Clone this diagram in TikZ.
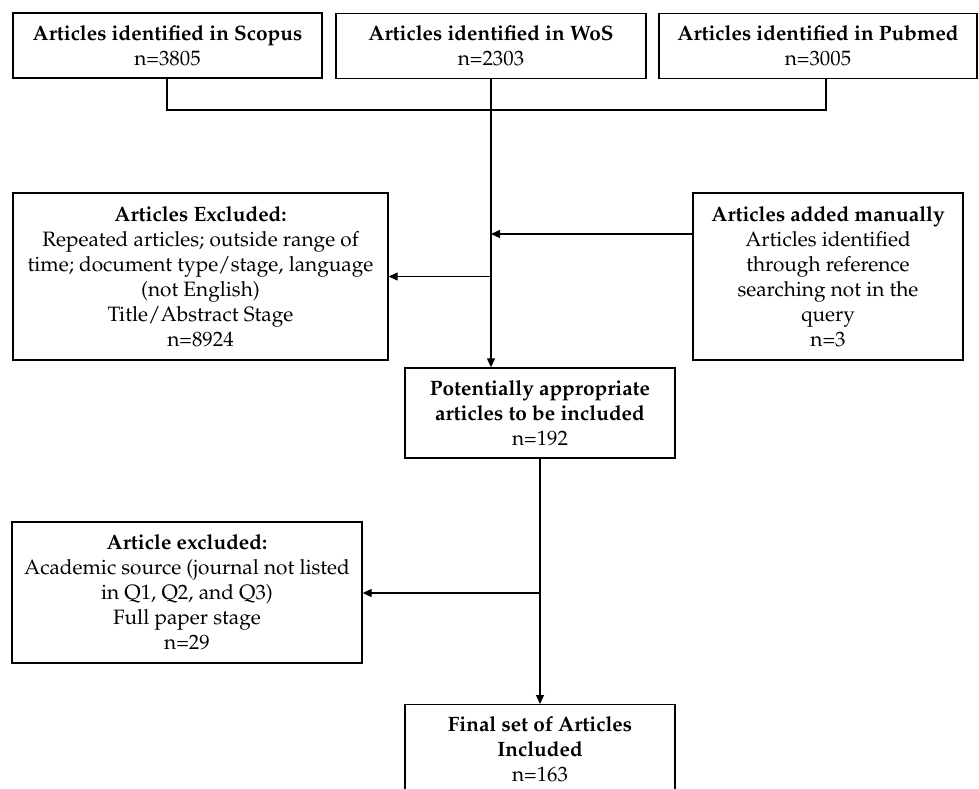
\documentclass[tikz,border=0pt]{standalone}
\usepackage[T1]{fontenc}
\usepackage{mathpazo}
\usetikzlibrary{arrows.meta}
\begin{document}
\begin{tikzpicture}[x=1pt,y=-1pt,
  box/.style={draw, line width=1.4pt, rectangle, align=center, inner sep=2pt,
    font=\fontsize{20.8}{25}\selectfont},
  link/.style={line width=1.3pt},
  flow/.style={line width=1.3pt, -{Triangle[length=9pt,width=8pt]}}]
  \useasboundingbox (0,0) rectangle (979,789);
  \clip (0,0) rectangle (979,789);

  % database searches
  \node[box, minimum width=309pt, minimum height=65pt] (scopus) at (167.5,45.5)
    {\textbf{Articles identified in Scopus}\\n=3805};
  \node[box, minimum width=310pt, minimum height=65pt] (wos) at (491,46)
    {\textbf{Articles identified in WoS}\\n=2303};
  \node[box, minimum width=318pt, minimum height=65pt] (pubmed) at (818,46)
    {\textbf{Articles identified in Pubmed}\\n=3005};

  % screening stage
  \node[box, minimum width=375pt, minimum height=167pt] (excl) at (200.5,276.5)
    {\textbf{Articles Excluded:}\\Repeated articles; outside range of\\time; document type/stage, language\\(not English)\\Title/Abstract Stage\\n=8924};
  \node[box, minimum width=270pt, minimum height=167pt] (added) at (828,276.5)
    {\textbf{Articles added manually}\\Articles identified\\through reference\\searching not in the\\query\\n=3};
  \node[box, minimum width=270pt, minimum height=90pt] (pot) at (540,413)
    {\textbf{Potentially appropriate}\\\textbf{articles to be included}\\n=192};

  % full paper stage
  \node[box, minimum width=350pt, minimum height=141pt] (excl2) at (187,592.5)
    {\textbf{Article excluded:}\\Academic source (journal not listed\\in Q1, Q2, and Q3)\\Full paper stage\\n=29};
  \node[box, minimum width=270pt, minimum height=88pt, anchor=north] (final) at (540,704)
    {\textbf{Final set of Articles}\\\textbf{Included}\\n=163};

  % connectors
  \coordinate (jl) at (167,110);
  \coordinate (jr) at (826,110);
  \draw[link] (scopus.south -| jl) -- (jl) -- (jr) -- (pubmed.south -| jr);
  \draw[flow] (wos.south) -- (pot.north -| wos.south);
  \draw[flow] (added.west |- 0,234) -- (wos.south |- 0,234);
  \draw[flow] (wos.south |- excl.east) -- (excl.east);
  \draw[flow] (pot.south) -- (final.north);
  \draw[flow] (pot.south |- 0,593) -- (excl2.east |- 0,593);
\end{tikzpicture}
\end{document}
